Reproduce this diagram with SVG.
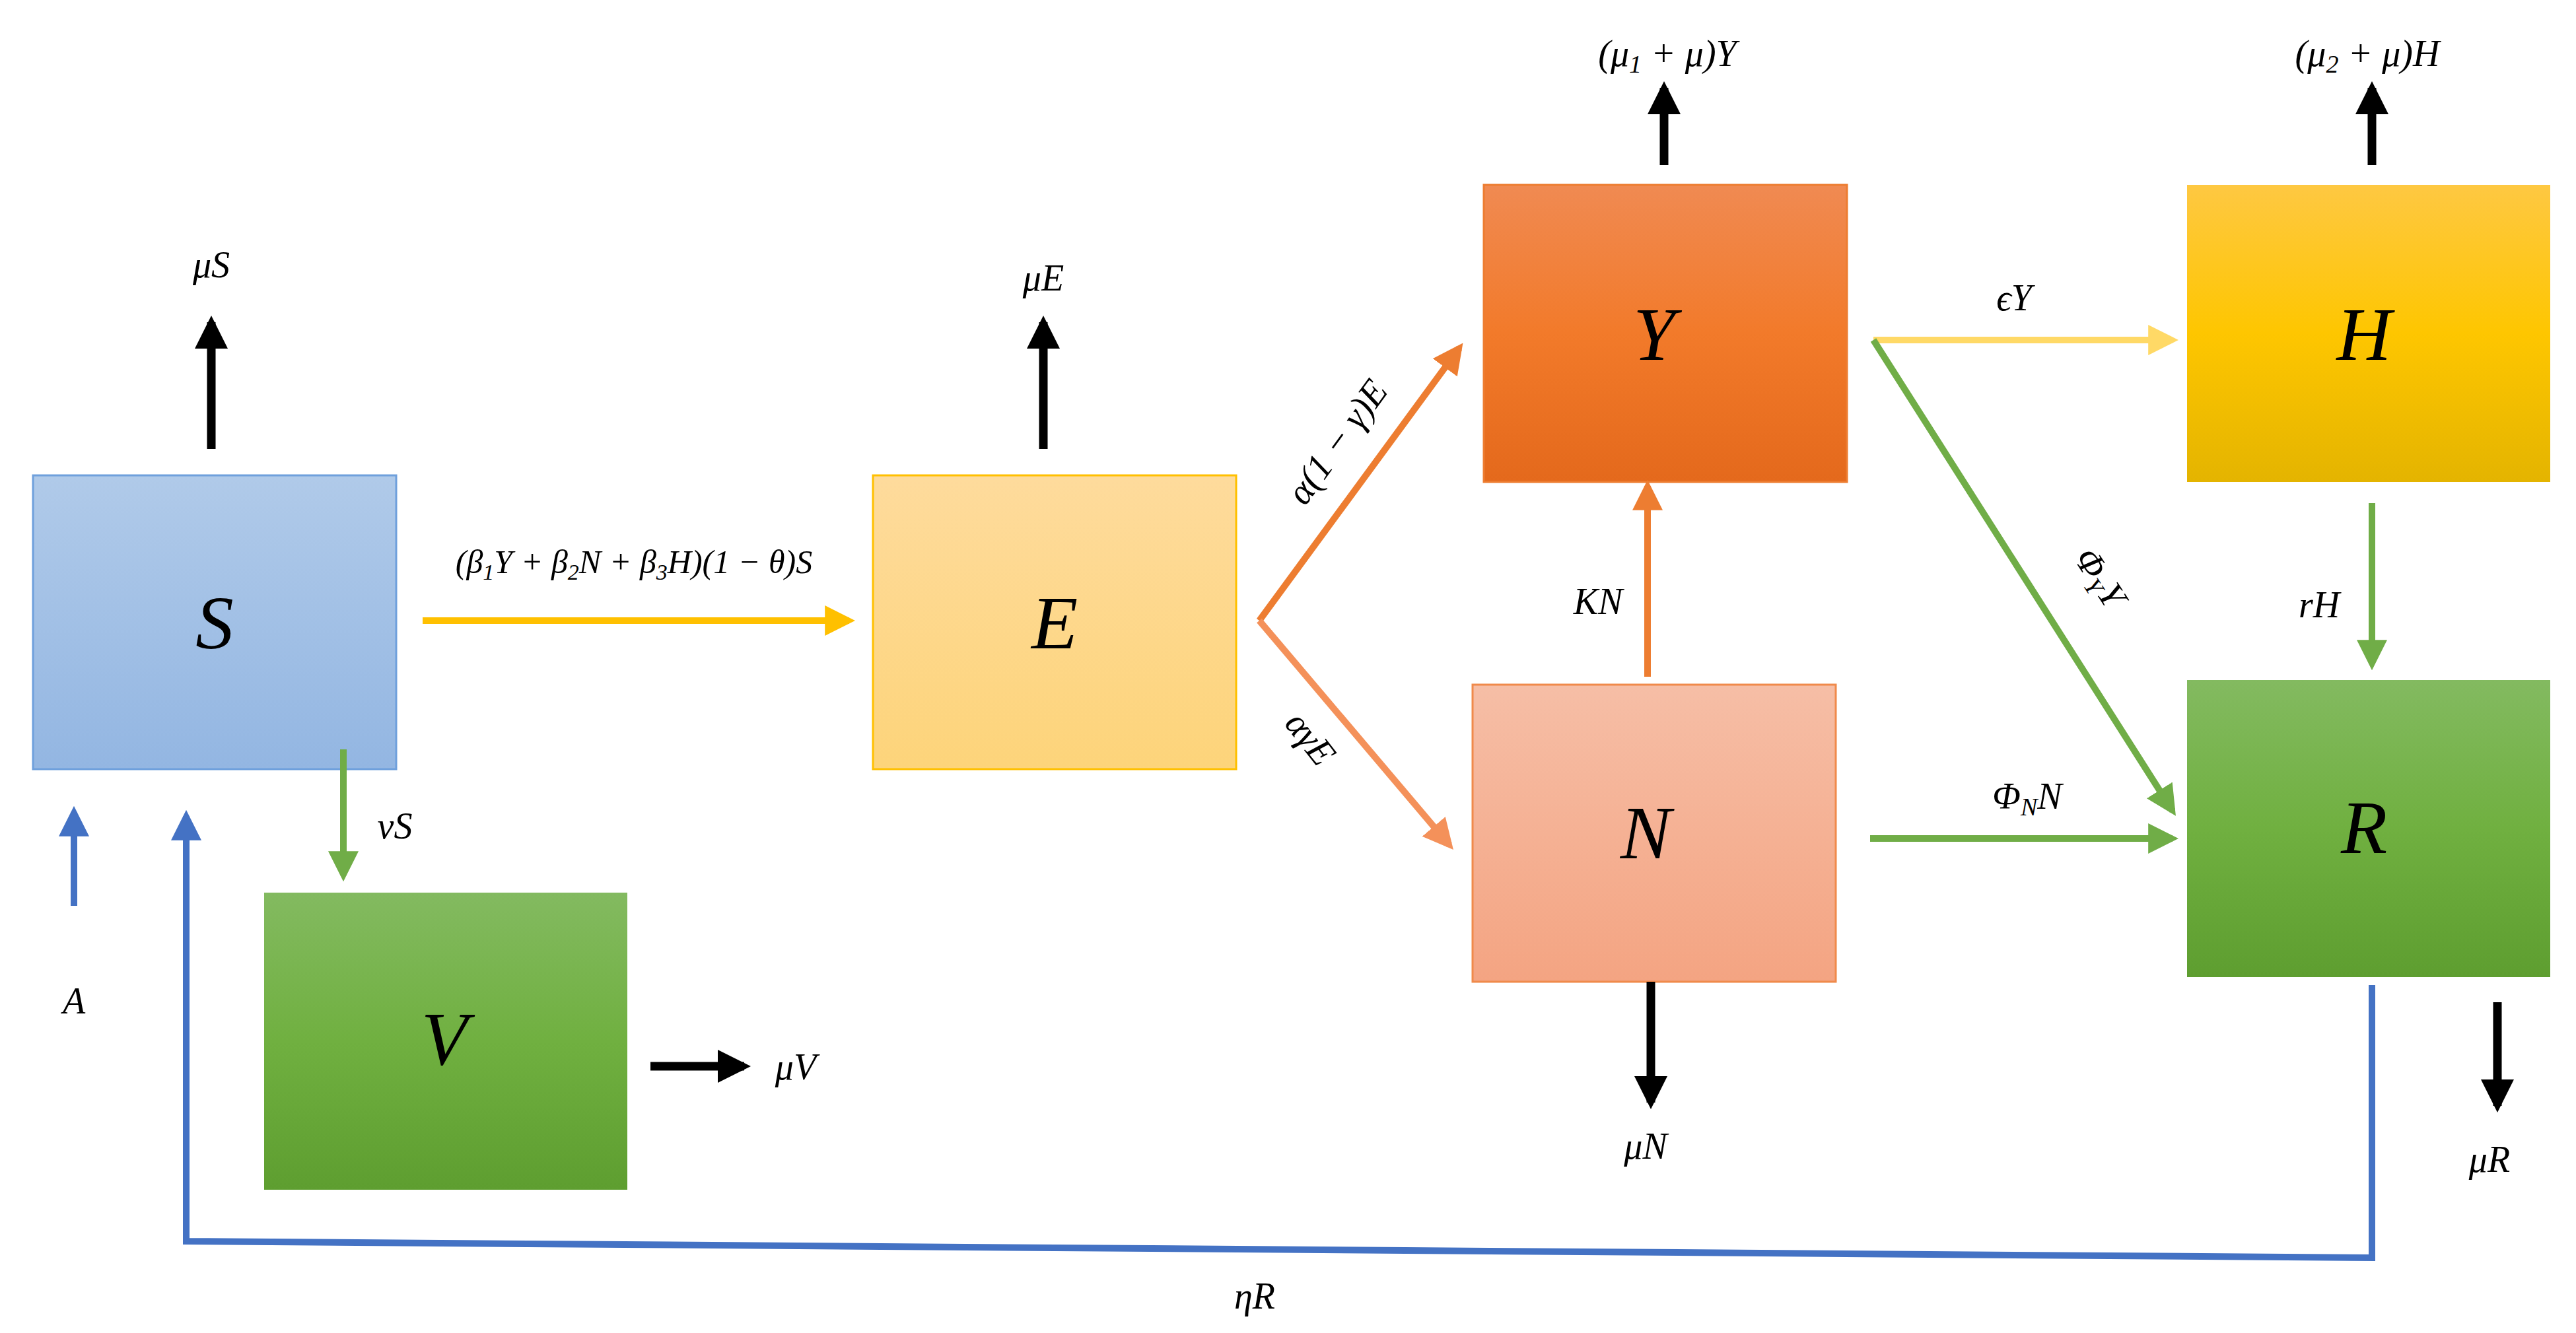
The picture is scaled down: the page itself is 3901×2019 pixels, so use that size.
<svg xmlns="http://www.w3.org/2000/svg" width="3901" height="2019" viewBox="0 0 3901 2019">
<style>
.big{font-family:"Liberation Serif",serif;font-style:italic;font-size:115px;text-anchor:middle;fill:#000}
.lb{font-family:"Liberation Serif",serif;font-style:italic;font-size:56px;text-anchor:middle;fill:#000}
.k{stroke:#000;stroke-width:13;fill:none}
.ln{fill:none;stroke-width:10}
</style>
<defs>
<linearGradient id="gS" x1="0" y1="0" x2="0" y2="1"><stop offset="0" stop-color="#B0CAE9"/><stop offset="1" stop-color="#93B6E2"/></linearGradient>
<linearGradient id="gE" x1="0" y1="0" x2="0" y2="1"><stop offset="0" stop-color="#FEDB9C"/><stop offset="1" stop-color="#FDD47A"/></linearGradient>
<linearGradient id="gY" x1="0" y1="0" x2="0" y2="1"><stop offset="0" stop-color="#F08A52"/><stop offset="0.5" stop-color="#F27A2A"/><stop offset="1" stop-color="#E4691C"/></linearGradient>
<linearGradient id="gN" x1="0" y1="0" x2="0" y2="1"><stop offset="0" stop-color="#F6BEA6"/><stop offset="1" stop-color="#F4A482"/></linearGradient>
<linearGradient id="gH" x1="0" y1="0" x2="0" y2="1"><stop offset="0" stop-color="#FEC842"/><stop offset="0.5" stop-color="#FEC600"/><stop offset="1" stop-color="#E4B400"/></linearGradient>
<linearGradient id="gG" x1="0" y1="0" x2="0" y2="1"><stop offset="0" stop-color="#83BA60"/><stop offset="0.5" stop-color="#70B040"/><stop offset="1" stop-color="#5E9E30"/></linearGradient>
<marker id="mk" viewBox="0 0 10 10" refX="8" refY="5" markerWidth="50" markerHeight="50" markerUnits="userSpaceOnUse" orient="auto"><path d="M0,0L10,5L0,10z" fill="#000"/></marker>
<marker id="my" viewBox="0 0 10 10" refX="8" refY="5" markerWidth="46" markerHeight="46" markerUnits="userSpaceOnUse" orient="auto"><path d="M0,0L10,5L0,10z" fill="#FFC000"/></marker>
<marker id="mly" viewBox="0 0 10 10" refX="8" refY="5" markerWidth="46" markerHeight="46" markerUnits="userSpaceOnUse" orient="auto"><path d="M0,0L10,5L0,10z" fill="#FFD966"/></marker>
<marker id="mo" viewBox="0 0 10 10" refX="8" refY="5" markerWidth="46" markerHeight="46" markerUnits="userSpaceOnUse" orient="auto"><path d="M0,0L10,5L0,10z" fill="#ED7D31"/></marker>
<marker id="mlo" viewBox="0 0 10 10" refX="8" refY="5" markerWidth="46" markerHeight="46" markerUnits="userSpaceOnUse" orient="auto"><path d="M0,0L10,5L0,10z" fill="#F4915A"/></marker>
<marker id="mg" viewBox="0 0 10 10" refX="8" refY="5" markerWidth="46" markerHeight="46" markerUnits="userSpaceOnUse" orient="auto"><path d="M0,0L10,5L0,10z" fill="#70AD47"/></marker>
<marker id="mb" viewBox="0 0 10 10" refX="8" refY="5" markerWidth="46" markerHeight="46" markerUnits="userSpaceOnUse" orient="auto"><path d="M0,0L10,5L0,10z" fill="#4472C4"/></marker>
</defs>
<rect width="3901" height="2019" fill="#fff"/>
<g id="S"><rect x="50" y="720" width="550" height="445" fill="url(#gS)" stroke="#6FA0DC" stroke-width="3"/><text class="big" x="325" y="982">S</text></g>
<g id="E"><rect x="1322" y="720" width="550" height="445" fill="url(#gE)" stroke="#FFC000" stroke-width="3"/><text class="big" x="1597" y="982">E</text></g>
<g id="Y"><rect x="2247" y="280" width="550" height="450" fill="url(#gY)" stroke="#ED7D31" stroke-width="3"/><text class="big" x="2505" y="545">Y</text></g>
<g id="N"><rect x="2230" y="1037" width="550" height="450" fill="url(#gN)" stroke="#F08A4B" stroke-width="3"/><text class="big" x="2492" y="1300">N</text></g>
<g id="H"><rect x="3312" y="280" width="550" height="450" fill="url(#gH)"/><text class="big" x="3580" y="545">H</text></g>
<g id="R"><rect x="3312" y="1030" width="550" height="450" fill="url(#gG)"/><text class="big" x="3580" y="1292">R</text></g>
<g id="V"><rect x="400" y="1352" width="550" height="450" fill="url(#gG)"/><text class="big" x="673" y="1612">V</text></g>
<g id="connectors">
<path class="k" d="M320,680V488" marker-end="url(#mk)"/>
<path class="k" d="M1580,680V488" marker-end="url(#mk)"/>
<path class="k" d="M2520,250V133" marker-end="url(#mk)"/>
<path class="k" d="M3592,250V133" marker-end="url(#mk)"/>
<path class="k" d="M2500,1487V1670" marker-end="url(#mk)"/>
<path class="k" d="M3782,1518V1675" marker-end="url(#mk)"/>
<path class="k" d="M985,1615H1127" marker-end="url(#mk)"/>
<path class="ln" stroke="#FFC000" d="M640,940H1286" marker-end="url(#my)"/>
<path class="ln" stroke="#ED7D31" d="M1907,940L2210,527" marker-end="url(#mo)"/>
<path class="ln" stroke="#F4915A" d="M1907,940L2195,1280" marker-end="url(#mlo)"/>
<path class="ln" stroke="#ED7D31" d="M2495,1025V736" marker-end="url(#mo)"/>
<path class="ln" stroke="#FFD966" d="M2837,515H3290" marker-end="url(#mly)"/>
<path class="ln" stroke="#70AD47" d="M2837,515L3290,1228" marker-end="url(#mg)"/>
<path class="ln" stroke="#70AD47" d="M2832,1270H3290" marker-end="url(#mg)"/>
<path class="ln" stroke="#70AD47" d="M3592,762V1006" marker-end="url(#mg)"/>
<path class="ln" stroke="#70AD47" d="M520,1135V1326" marker-end="url(#mg)"/>
<path class="ln" stroke="#4472C4" d="M112,1372V1230" marker-end="url(#mb)"/>
<path class="ln" stroke="#4472C4" d="M3592,1492V1905L282,1880V1236" marker-end="url(#mb)"/>
</g>
<g id="labels">
<text class="lb" x="320" y="420">μS</text>
<text class="lb" x="1580" y="440">μE</text>
<text class="lb" x="960" y="868" style="font-size:50px">(β<tspan font-size="34" dy="10">1</tspan><tspan dy="-10">Y + β</tspan><tspan font-size="34" dy="10">2</tspan><tspan dy="-10">N + β</tspan><tspan font-size="34" dy="10">3</tspan><tspan dy="-10">H)(1 − θ)S</tspan></text>
<text class="lb" transform="translate(2040,680) rotate(-54)">α(1 − γ)E</text>
<text class="lb" transform="translate(1970,1130) rotate(52)">αγE</text>
<text class="lb" x="2420" y="930">KN</text>
<text class="lb" x="2525" y="100">(μ<tspan font-size="38" dy="10">1</tspan><tspan dy="-10"> + μ)Y</tspan></text>
<text class="lb" x="3585" y="100">(μ<tspan font-size="38" dy="10">2</tspan><tspan dy="-10"> + μ)H</tspan></text>
<text class="lb" x="3050" y="470">ϵY</text>
<text class="lb" transform="translate(3165,885) rotate(57)">Φ<tspan font-size="38" dy="10">Y</tspan><tspan dy="-10">Y</tspan></text>
<text class="lb" x="3070" y="1225">Φ<tspan font-size="38" dy="10">N</tspan><tspan dy="-10">N</tspan></text>
<text class="lb" x="3512" y="935">rH</text>
<text class="lb" x="2492" y="1755">μN</text>
<text class="lb" x="3770" y="1775">μR</text>
<text class="lb" x="598" y="1270">vS</text>
<text class="lb" x="112" y="1535">A</text>
<text class="lb" x="1205" y="1635">μV</text>
<text class="lb" x="1900" y="1982">ηR</text>
</g>
</svg>
